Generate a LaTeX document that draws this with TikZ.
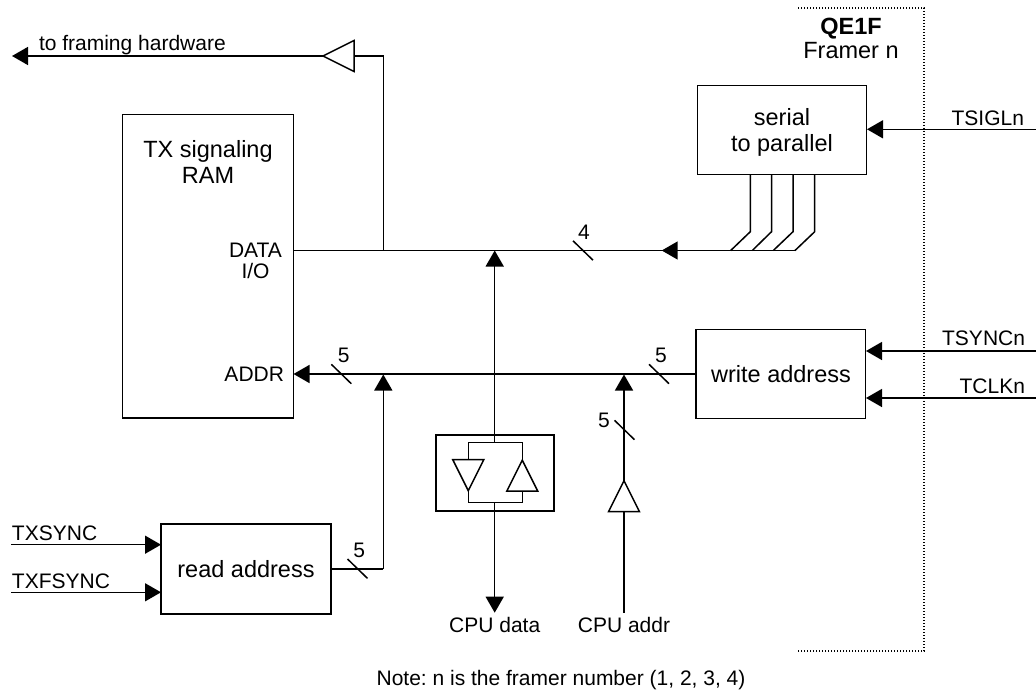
\documentclass[tikz,border=0pt]{standalone}
\usepackage{fontspec}
\setmainfont{Liberation Sans}
\AtBeginDocument{\frenchspacing}
\usetikzlibrary{arrows.meta,shapes.geometric}
\tikzset{
  x=1pt,y=-1pt,
  wire/.style={line width=1.5pt,line join=miter},
  arr/.style={wire,-{Triangle[length=16pt,width=18pt]}},
  blockbox/.style={draw,line width=1.5pt,minimum width=#1,inner sep=0pt,outer sep=0pt},
  buffer/.style={draw,line width=1.5pt,isosceles triangle,isosceles triangle stretches,
     minimum width=31pt,minimum height=31pt,inner sep=0pt,outer sep=0pt,anchor=apex},
  lab/.style={inner sep=0pt,outer sep=0pt,anchor=base,font=\fontsize{21}{25}\selectfont},
  blab/.style={inner sep=0pt,outer sep=0pt,anchor=base,font=\fontsize{23.5}{26.7}\selectfont},
  mlab/.style={inner sep=0pt,outer sep=0pt,align=center},
  slash/.style={line width=1.5pt},
  bound/.style={line width=1.3pt,dash pattern=on 1.3pt off 1.7pt},
}
\begin{document}
\begin{tikzpicture}
\useasboundingbox (0,0) rectangle (1036,690);
% boundary
\coordinate (bA) at (798,8); \coordinate (bB) at (924,8);
\coordinate (bC) at (924,651); \coordinate (bD) at (798,651);
\draw[bound] (bA) -- (bB) -- (bC) -- (bD);
% blocks
\node[blockbox=170.6pt,minimum height=303.7pt] (ram) at (208,266.2) {};
\node[blockbox=169pt,minimum height=88.6pt] (s2p) at (782.2,130) {};
\node[blockbox=169.3pt,minimum height=89pt] (waddr) at (780.7,373.8) {};
\node[blockbox=170pt,minimum height=89.7pt] (raddr) at (246,568.9) {};
\node[blockbox=118pt,minimum height=76pt] (drv) at (495,473) {};
% texts
\node[mlab,font=\fontsize{23.5}{26.7}\selectfont] (ramt) at (208,162) {TX signaling\\RAM};
\node[mlab,font=\fontsize{23.5}{26.7}\selectfont] (s2pt) at (782,132.5) {serial\\to parallel};
\node[blab] (waddrt) at (781,382) {write address};
\node[blab] (raddrt) at (246,577.3) {read address};
\node[mlab,font=\fontsize{21}{21.7}\selectfont] (datat) at (255.5,261) {DATA\\I/O};
\node[lab,anchor=base east] (addrt) at (284,381.7) {ADDR};
\node[lab,anchor=base west] (fh) at (39,50.7) {to framing hardware};
\node[lab,anchor=base west] (txs) at (12,540) {TXSYNC};
\node[lab,anchor=base west] (txf) at (12,588.3) {TXFSYNC};
\node[lab,anchor=base east] (tsig) at (1024,125.7) {TSIGLn};
\node[lab,anchor=base east] (tsyn) at (1025,345.7) {TSYNCn};
\node[lab,anchor=base east] (tclk) at (1025,393) {TCLKn};
\node[lab] (cpud) at (494.7,632.7) {CPU data};
\node[lab] (cpua) at (624,632.7) {CPU addr};
\node[lab] (note) at (561,685.7) {Note: n is the framer number (1, 2, 3, 4)};
\node[blab,font=\bfseries\fontsize{23.5}{26.7}\selectfont] (qe) at (851,35) {QE1F};
\node[blab] (fr) at (851,58.3) {Framer n};
\node[lab] (n4) at (584,239.3) {4};
\node[lab] (n5a) at (343.7,362.7) {5};
\node[lab] (n5b) at (661,362.7) {5};
\node[lab] (n5c) at (604,427.3) {5};
\node[lab] (n5d) at (359.3,557.3) {5};
% buffers
\node[buffer,shape border rotate=180] (buf1) at (323,56) {};
\node[buffer,shape border rotate=90] (buf2) at (624,480.7) {};
\node[buffer,shape border rotate=90] (buf3) at (522.3,460.2) {};
\node[buffer,shape border rotate=270] (buf4) at (468.3,490.7) {};
% junction coordinates
\coordinate (jtop) at (383.3,56);
\coordinate (jdata) at (383.3,250.5);
\coordinate (ramd) at (293.3,250.5);
\coordinate (tipd) at (494.7,250.5);
\coordinate (bus1) at (730.7,250.5);
\coordinate (bus2) at (752.3,250.5);
\coordinate (bus3) at (773.3,250.5);
\coordinate (bus4) at (795,250.5);
\coordinate (k1) at (750.3,231.7);
\coordinate (k2) at (771.5,231.7);
\coordinate (k3) at (793,231.7);
\coordinate (k4) at (814.7,231.7);
\coordinate (t1) at (750.3,174.3);
\coordinate (t2) at (771.5,174.3);
\coordinate (t3) at (793,174.3);
\coordinate (t4) at (814.7,174.3);
\coordinate (arrd) at (661.7,250.5);
\coordinate (ftip) at (12,56);
\coordinate (addrtip) at (293.5,374);
\coordinate (jaddr) at (383.3,374.5);
\coordinate (jcpu) at (624,374.5);
\coordinate (rcorner) at (383.3,569);
\coordinate (in1) at (11,544.7);
\coordinate (in2) at (11,592.3);
\coordinate (tip1) at (161,544.7);
\coordinate (tip2) at (161,592.3);
\coordinate (rsrc) at (331,569);
\coordinate (esig) at (1036,129.3);
\coordinate (tsig2) at (867,129.3);
\coordinate (esyn) at (1036,351);
\coordinate (tsyn2) at (866,351);
\coordinate (eclk) at (1036,398);
\coordinate (tclk2) at (866,398);
\coordinate (wsrc) at (696,374);
\coordinate (itop) at (494.7,442.7);
\coordinate (itl) at (468.3,442.7);
\coordinate (itr) at (522.3,442.7);
\coordinate (ibot) at (494.7,502.7);
\coordinate (ibl) at (468.3,502.7);
\coordinate (ibr) at (522.3,502.7);
\coordinate (dtip) at (494.7,612.7);
\coordinate (astart) at (624,612.7);
% connectors
\draw[arr] (buf1.apex) -- (ftip);
\draw[wire] (buf1.lower side) -- (jtop) -- (jdata);
\draw[wire] (ramd) -- (bus4);
\draw[wire] (t1) -- (k1) -- (bus1);
\draw[wire] (t2) -- (k2) -- (bus2);
\draw[wire] (t3) -- (k3) -- (bus3);
\draw[wire] (t4) -- (k4) -- (bus4);
\draw[arr] (bus1) -- (arrd);
\draw[arr] (itop) -- (tipd);
\draw[wire] (buf4.lower side) -- (itl) -- (itr) -- (buf3.apex);
\draw[wire] (buf4.apex) -- (ibl) -- (ibr) -- (buf3.lower side);
\draw[arr] (ibot) -- (dtip);
\draw[arr] (wsrc) -- (addrtip);
\draw[wire] (astart) -- (buf2.lower side);
\draw[arr] (buf2.apex) -- (jcpu);
\draw[wire] (rsrc) -- (rcorner);
\draw[arr] (rcorner) -- (jaddr);
\draw[arr] (in1) -- (tip1);
\draw[arr] (in2) -- (tip2);
\draw[arr] (esig) -- (tsig2);
\draw[arr] (esyn) -- (tsyn2);
\draw[arr] (eclk) -- (tclk2);
% bus-width slashes
\coordinate (s4) at (583,250.5);
\coordinate (s5a) at (341.3,374);
\coordinate (s5b) at (659,374);
\coordinate (s5c) at (624.5,430);
\coordinate (s5d) at (357.5,568.7);
\foreach \s in {s4,s5a,s5b,s5c,s5d} \draw[slash] (\s) +(-10,-9.7) -- +(10,9.7);
\end{tikzpicture}
\end{document}
